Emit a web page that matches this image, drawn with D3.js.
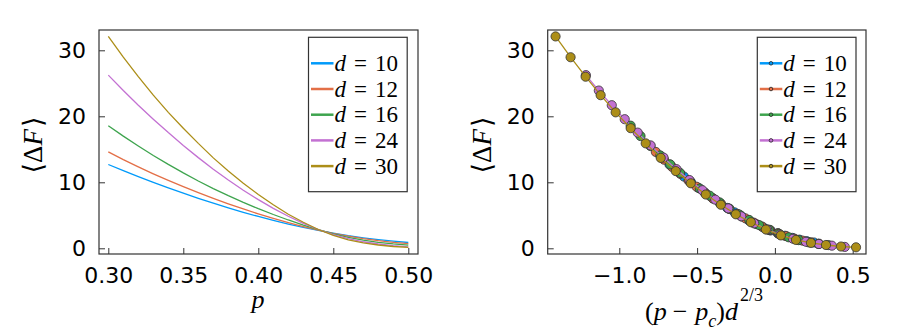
<!DOCTYPE html>
<html>
<head>
<meta charset="utf-8">
<script src="https://cdn.jsdelivr.net/npm/d3@7"></script>
<style>
  body { margin: 0; background: #fff; }
  svg { display: block; }
  .tick text { font-family: "DejaVu Sans", sans-serif; font-size: 22px; fill: #000; }
  .tick line { stroke: #333; stroke-width: 1; }
  .math { font-family: "Liberation Serif", "DejaVu Serif", serif; fill: #000; }
</style>
</head>
<body>
<div id="chart"></div>
<script>
// values
let pValues = [0.30, 0.31, 0.32, 0.33, 0.34, 0.35, 0.36, 0.37, 0.38, 0.39, 0.40,
               0.41, 0.42, 0.43, 0.44, 0.45, 0.46, 0.47, 0.48, 0.49, 0.50];
let dValues = [10, 12, 16, 24, 30];
let pc = 0.446;

let dF10 = [12.7, 11.77, 10.87, 10.00, 9.16, 8.35, 7.57, 6.83, 6.12, 5.45, 4.82,
            4.23, 3.68, 3.17, 2.70, 2.28, 1.90, 1.58, 1.31, 1.08, 0.88];
let dF12 = [14.6, 13.43, 12.33, 11.28, 10.28, 9.33, 8.42, 7.56, 6.74, 5.96, 5.22,
            4.53, 3.89, 3.30, 2.76, 2.27, 1.84, 1.47, 1.16, 0.91, 0.70];
let dF16 = [18.58, 17.00, 15.50, 14.07, 12.71, 11.42, 10.20, 9.05, 7.97, 6.96, 6.01,
            5.12, 4.29, 3.52, 2.82, 2.20, 1.67, 1.24, 0.91, 0.67, 0.49];
let dF24 = [26.24, 23.90, 21.68, 19.56, 17.53, 15.59, 13.74, 11.99, 10.34, 8.80, 7.37,
            6.05, 4.85, 3.78, 2.85, 2.07, 1.45, 0.99, 0.65, 0.40, 0.21];
let dF30 = [32.1, 28.95, 26.0, 23.2, 20.6, 18.2, 15.9, 13.7, 11.7, 9.85, 8.15,
            6.6, 5.15, 3.95, 2.85, 1.95, 1.27, 0.82, 0.50, 0.27, 0.15];
let seriesValues = [dF10, dF12, dF16, dF24, dF30];

let colors = ["#009AFA", "#E36F47", "#3EA44E", "#C371D2", "#AC8E18"];

let leftXTicks = [0.30, 0.35, 0.40, 0.45, 0.50];
let leftXLabels = ["0.30", "0.35", "0.40", "0.45", "0.50"];
let rightXTicks = [-1.0, -0.5, 0.0, 0.5];
let rightXLabels = ["\u22121.0", "\u22120.5", "0.0", "0.5"];
let yTicks = [0, 10, 20, 30];
let yLabels = ["0", "10", "20", "30"];

// build series table, right panel uses the rescaled x = (p - pc) d^(2/3)
let series = dValues.map((d, i) => ({
  d: d,
  color: colors[i],
  points: pValues.map((p, j) => ({ p: p, x: (p - pc) * Math.pow(d, 2 / 3), y: seriesValues[i][j] }))
}));

/////////////////////////Set Up Chart////////////////////////////
let svgWidth = 897;
let svgHeight = 336;

let svg = d3.select("#chart")
  .append("svg")
  .attr("width", svgWidth)
  .attr("height", svgHeight);

let frameTop = 30, frameBottom = 254;

// y scale shared by both panels
let yScale = d3.scaleLinear().domain([0, 30]).range([248.3, 50.3]);

function drawPanel(opts) {
  let g = svg.append("g");
  let xScale = opts.xScale;

  // bottom axis with inward ticks
  g.append("g")
    .attr("transform", `translate(0, ${frameBottom})`)
    .call(d3.axisBottom(xScale).tickValues(opts.xTicks)
      .tickFormat((d, i) => opts.xLabels[i]).tickSize(-6).tickPadding(13))
    .call(a => a.select(".domain").remove());

  // left axis
  g.append("g")
    .attr("transform", `translate(${opts.left}, 0)`)
    .call(d3.axisLeft(yScale).tickValues(yTicks)
      .tickFormat((d, i) => yLabels[i]).tickSize(-6).tickPadding(13))
    .call(a => a.select(".domain").remove());

  // clip to frame
  let clipId = "clip" + Math.round(opts.left);
  svg.append("clipPath").attr("id", clipId)
    .append("rect")
    .attr("x", opts.left).attr("y", frameTop)
    .attr("width", opts.right - opts.left).attr("height", frameBottom - frameTop);

  let plot = g.append("g").attr("clip-path", `url(#${clipId})`);
  opts.drawData(plot, xScale);

  // frame
  g.append("rect")
    .attr("x", opts.left).attr("y", frameTop)
    .attr("width", opts.right - opts.left).attr("height", frameBottom - frameTop)
    .attr("fill", "none").attr("stroke", "#333").attr("stroke-width", 1.2);

  // y label
  let yl = g.append("text")
    .attr("class", "math")
    .attr("transform", `translate(${opts.left - 57}, 145) rotate(-90)`)
    .attr("text-anchor", "middle")
    .attr("font-size", 27);
  yl.append("tspan").text("\u27E8\u0394");
  yl.append("tspan").attr("font-style", "italic").text("F");
  yl.append("tspan").attr("dx", 2).text("\u27E9");

  // legend
  let lg = g.append("g");
  lg.append("rect")
    .attr("x", opts.legendX).attr("y", 37.3)
    .attr("width", 98.7).attr("height", 154.4)
    .attr("fill", "#fff").attr("stroke", "#333").attr("stroke-width", 1.2);
  series.forEach((s, i) => {
    let cy = 63.3 + i * 25.7;
    lg.append("line")
      .attr("x1", opts.legendX + 2.5).attr("x2", opts.legendX + 25)
      .attr("y1", cy).attr("y2", cy)
      .attr("stroke", s.color).attr("stroke-width", 2.5);
    if (opts.markers) {
      lg.append("circle")
        .attr("cx", opts.legendX + 13.7).attr("cy", cy).attr("r", 1.8)
        .attr("fill", s.color).attr("stroke", "#222").attr("stroke-width", 0.8);
    }
    let t = lg.append("text")
      .attr("class", "math")
      .attr("x", opts.legendX + 26).attr("y", cy + 7.5)
      .attr("font-size", 23);
    t.append("tspan").attr("font-style", "italic").text("d");
    t.append("tspan").attr("dx", 8).text("=");
    t.append("tspan").attr("dx", 8).text(s.d);
  });
}

// left panel
let xLeft = d3.scaleLinear().domain([0.30, 0.50]).range([108.3, 408.3]);
drawPanel({
  left: 99, right: 418, xScale: xLeft,
  xTicks: leftXTicks, xLabels: leftXLabels,
  legendX: 308.5, markers: false,
  drawData: (plot, xs) => {
    let line = d3.line().x(d => xs(d.p)).y(d => yScale(d.y));
    series.forEach(s => {
      plot.append("path")
        .datum(s.points)
        .attr("d", line)
        .attr("fill", "none")
        .attr("stroke", s.color)
        .attr("stroke-width", 1.3);
    });
  }
});

// right panel
let xRight = d3.scaleLinear().domain([-1.0, 0.5]).range([619.3, 852.7]);
drawPanel({
  left: 547.7, right: 866, xScale: xRight,
  xTicks: rightXTicks, xLabels: rightXLabels,
  legendX: 757.3, markers: true,
  drawData: (plot, xs) => {
    let line = d3.line().x(d => xs(d.x)).y(d => yScale(d.y));
    series.forEach(s => {
      plot.append("path")
        .datum(s.points)
        .attr("d", line)
        .attr("fill", "none")
        .attr("stroke", s.color)
        .attr("stroke-width", 1.3);
      plot.selectAll(null)
        .data(s.points)
        .enter()
        .append("circle")
        .attr("cx", d => xs(d.x))
        .attr("cy", d => yScale(d.y))
        .attr("r", 4.6)
        .attr("fill", s.color)
        .attr("stroke", "#333")
        .attr("stroke-width", 0.8);
    });
  }
});

// x labels
svg.append("text")
  .attr("class", "math")
  .attr("x", 258).attr("y", 308)
  .attr("text-anchor", "middle")
  .attr("font-size", 26)
  .attr("font-style", "italic")
  .text("p");

let xr = svg.append("text")
  .attr("class", "math")
  .attr("x", 704).attr("y", 320)
  .attr("text-anchor", "middle")
  .attr("font-size", 26);
xr.append("tspan").text("(");
xr.append("tspan").attr("font-style", "italic").text("p");
xr.append("tspan").attr("dx", 6).text("\u2212");
xr.append("tspan").attr("dx", 8).attr("font-style", "italic").text("p");
xr.append("tspan").attr("font-style", "italic").attr("font-size", 18).attr("dy", 7).text("c");
xr.append("tspan").attr("dy", -7).text(")");
xr.append("tspan").attr("font-style", "italic").text("d");
xr.append("tspan").attr("font-size", 18).attr("dy", -19).attr("dx", 2).text("2/3");
</script>
</body>
</html>
